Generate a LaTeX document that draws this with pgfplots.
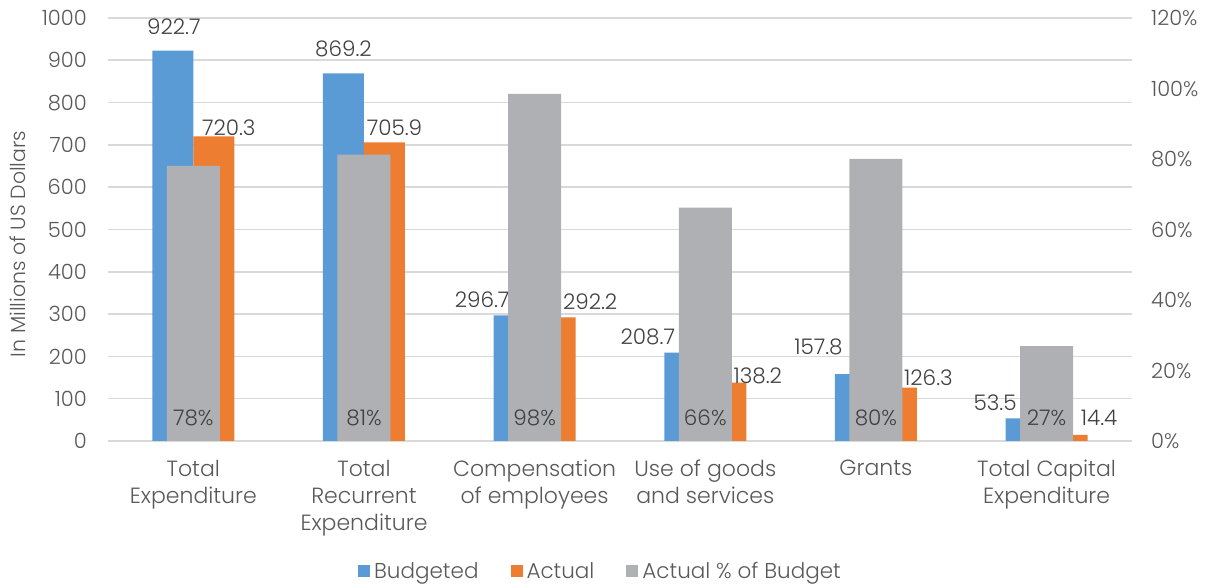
\documentclass[border=0pt]{standalone}
\usepackage{pgfplots}
\pgfplotsset{compat=1.18}
\usepackage{pgfplotstable}
\usepackage{fontspec}
\setmainfont{Poppins Light}
\definecolor{cblue}{RGB}{91,155,213}
\definecolor{corange}{RGB}{237,125,49}
\definecolor{cgrey}{RGB}{175,176,179}
\definecolor{ctext}{RGB}{89,89,89}
\definecolor{clab}{RGB}{64,64,64}
\definecolor{cgrid}{RGB}{217,217,217}

\pgfplotstableread{
x bud bdx bdy act adx ady pct zero
0 922.7 1 24 720.3 15 9 78.06 0
1 869.2 0 24 705.9 10 15 81.21 0
2 296.7 -32 16 292.2 35 16 98.48 0
3 208.7 -37 16 138.2 32 7 66.22 0
4 157.8 -37 27 126.3 32 10 80.04 0
5 53.5 -31 16 14.4 32 17 26.92 0
}\datatable

\pgfplotsset{
  /pgf/number format/assume math mode=true,
  /pgf/number format/1000 sep={},
  common/.style={
    at={(108pt,145pt)}, anchor=south west,
    scale only axis, width=1024pt, height=423pt,
    xmin=-0.5, xmax=5.5,
    axis line style={draw=none},
    major tick length=0pt,
    tick style={draw=none},
    clip=false,
  },
}

\begin{document}
\begin{tikzpicture}
\useasboundingbox (0,0) rectangle (1211pt,586pt);
\begin{axis}[common,
  ymin=0, ymax=1000,
  ytick={0,100,...,1000},
  xtick={0,...,5},
  xticklabels={{Total\\Expenditure},{Total\\Recurrent\\Expenditure},{Compensation\\of employees},{Use of goods\\and services},{Grants},{Total Capital\\Expenditure}},
  xticklabel style={align=center, font=\fontsize{22}{27}\selectfont, text=ctext, anchor=north, inner sep=0pt, yshift=-19pt},
  yticklabel style={anchor=east, inner sep=0pt, xshift=-21pt, font=\fontsize{21}{25}\selectfont, text=ctext},
  ymajorgrids, grid style={cgrid, line width=1.6pt},
  ylabel={In Millions of US Dollars},
  ylabel style={at={(axis description cs:-0.088,0.466)}, anchor=center, font=\fontsize{20.5}{24}\selectfont, text=ctext},
  ybar=0pt, bar width=41pt,
]
\addplot[fill=cblue, draw=none,
  visualization depends on={\thisrow{bdx} \as \dx},
  visualization depends on={\thisrow{bdy} \as \dy},
  nodes near coords={\pgfmathprintnumber[fixed,fixed zerofill,precision=1]{\pgfplotspointmeta}},
  every node near coord/.append style={anchor=center, xshift=\dx pt, yshift=\dy pt, font=\fontsize{21.5}{25}\selectfont, text=clab, inner sep=0pt}]
  table[x=x, y=bud]{\datatable};
\addplot[fill=corange, draw=none,
  visualization depends on={\thisrow{adx} \as \dx},
  visualization depends on={\thisrow{ady} \as \dy},
  nodes near coords={\pgfmathprintnumber[fixed,fixed zerofill,precision=1]{\pgfplotspointmeta}},
  every node near coord/.append style={anchor=center, xshift=\dx pt, yshift=\dy pt, font=\fontsize{21.5}{25}\selectfont, text=clab, inner sep=0pt}]
  table[x=x, y=act]{\datatable};
\end{axis}
\begin{axis}[common,
  ymin=0, ymax=120,
  ytick={0,20,...,120},
  axis x line=none,
  axis y line*=right,
  yticklabel={\pgfmathprintnumber{\tick}\%},
  yticklabel style={anchor=west, inner sep=0pt, xshift=19pt, font=\fontsize{21}{25}\selectfont, text=ctext},
  legend style={at={(0.481,-0.307)}, anchor=center, draw=none, fill=none, legend columns=3,
    font=\fontsize{21.5}{25}\selectfont, text=ctext,
    /tikz/every odd column/.append style={column sep=2pt},
    /tikz/every even column/.append style={column sep=30pt}},
  legend image code/.code={\fill[#1] (0pt,-6pt) rectangle (12pt,6pt);},
]
\addlegendimage{fill=cblue, draw=none}
\addlegendentry{Budgeted}
\addlegendimage{fill=corange, draw=none}
\addlegendentry{Actual}
\addplot[ybar, bar width=53pt, fill=cgrey, draw=none] table[x=x, y=pct]{\datatable};
\addlegendentry{Actual \% of Budget}
\addplot[draw=none, mark=none, forget plot, point meta=explicit,
  nodes near coords={\pgfmathprintnumber[fixed,precision=0]{\pgfplotspointmeta}\%},
  every node near coord/.append style={anchor=center, yshift=23pt, font=\fontsize{21.5}{25}\selectfont, text=clab, inner sep=0pt}]
  table[x=x, y=zero, meta=pct]{\datatable};
\end{axis}
\end{tikzpicture}
\end{document}
